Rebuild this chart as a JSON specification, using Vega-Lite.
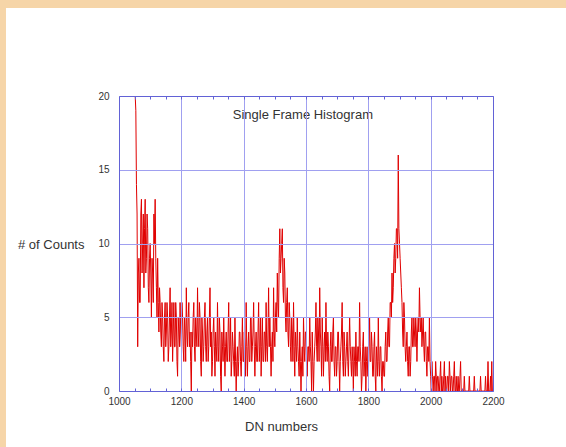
{
  "$schema": "https://vega.github.io/schema/vega-lite/v6.json",
  "width": 374,
  "height": 295,
  "autosize": "none",
  "padding": {"left": 119, "top": 96, "right": 73, "bottom": 56},
  "background": "#F6D5A8",
  "config": {
    "view": {"stroke": null},
    "axis": {
      "labelFont": "Liberation Sans",
      "titleFont": "Liberation Sans",
      "labelColor": "#333333",
      "titleColor": "#333333",
      "labelFontSize": 10,
      "titleFontSize": 13,
      "titleFontWeight": "normal",
      "domainColor": "#6262D6",
      "tickColor": "#6262D6",
      "gridColor": "#A0A0F0",
      "gridWidth": 1,
      "domainWidth": 1
    }
  },
  "resolve": {"axis": {"x": "independent", "y": "independent"}},
  "layer": [
    {
      "data": {"values": [{"panel": "sheet"}]},
      "mark": {"type": "rect", "color": "white"},
      "encoding": {
        "x": {"datum": 637.4, "type": "quantitative", "scale": {"domain": [1000, 2200]}, "axis": null},
        "x2": {"datum": 2434.2},
        "y": {"datum": -3.8, "type": "quantitative", "scale": {"domain": [0, 20]}, "axis": null},
        "y2": {"datum": 25.97}
      }
    },
    {
      "data": {
        "values": [
          {"dn":1052,"n":20},{"dn":1054,"n":19},{"dn":1056,"n":14},{"dn":1058,"n":12},{"dn":1060,"n":3},{"dn":1062,"n":8},{"dn":1064,"n":9},{"dn":1066,"n":6},{"dn":1068,"n":6},{"dn":1070,"n":12},
          {"dn":1072,"n":13},{"dn":1074,"n":8},{"dn":1076,"n":10},{"dn":1078,"n":12},{"dn":1080,"n":7},{"dn":1082,"n":11},{"dn":1084,"n":13},{"dn":1086,"n":8},{"dn":1088,"n":9},{"dn":1090,"n":12},
          {"dn":1092,"n":11},{"dn":1094,"n":7},{"dn":1096,"n":6},{"dn":1098,"n":9},{"dn":1100,"n":10},{"dn":1102,"n":8},{"dn":1104,"n":5},{"dn":1106,"n":9},{"dn":1108,"n":8},{"dn":1110,"n":6},
          {"dn":1112,"n":12},{"dn":1114,"n":10},{"dn":1116,"n":13},{"dn":1118,"n":9},{"dn":1120,"n":7},{"dn":1122,"n":5},{"dn":1124,"n":9},{"dn":1126,"n":6},{"dn":1128,"n":4},{"dn":1130,"n":7},
          {"dn":1132,"n":6},{"dn":1134,"n":4},{"dn":1136,"n":3},{"dn":1138,"n":6},{"dn":1140,"n":5},{"dn":1142,"n":3},{"dn":1144,"n":2},{"dn":1146,"n":5},{"dn":1148,"n":6},{"dn":1150,"n":3},
          {"dn":1152,"n":4},{"dn":1154,"n":6},{"dn":1156,"n":5},{"dn":1158,"n":2},{"dn":1160,"n":3},{"dn":1162,"n":5},{"dn":1164,"n":7},{"dn":1166,"n":3},{"dn":1168,"n":4},{"dn":1170,"n":6},
          {"dn":1172,"n":2},{"dn":1174,"n":4},{"dn":1176,"n":6},{"dn":1178,"n":3},{"dn":1180,"n":3},{"dn":1182,"n":6},{"dn":1184,"n":5},{"dn":1186,"n":2},{"dn":1188,"n":1},{"dn":1190,"n":5},
          {"dn":1192,"n":4},{"dn":1194,"n":3},{"dn":1196,"n":6},{"dn":1198,"n":4},{"dn":1200,"n":3},{"dn":1202,"n":6},{"dn":1204,"n":5},{"dn":1206,"n":3},{"dn":1208,"n":2},{"dn":1210,"n":5},
          {"dn":1212,"n":4},{"dn":1214,"n":2},{"dn":1216,"n":7},{"dn":1218,"n":4},{"dn":1220,"n":3},{"dn":1222,"n":5},{"dn":1224,"n":6},{"dn":1226,"n":3},{"dn":1228,"n":4},{"dn":1230,"n":2},
          {"dn":1232,"n":0},{"dn":1234,"n":4},{"dn":1236,"n":3},{"dn":1238,"n":5},{"dn":1240,"n":6},{"dn":1242,"n":3},{"dn":1244,"n":2},{"dn":1246,"n":5},{"dn":1248,"n":4},{"dn":1250,"n":3},
          {"dn":1252,"n":7},{"dn":1254,"n":4},{"dn":1256,"n":3},{"dn":1258,"n":6},{"dn":1260,"n":5},{"dn":1262,"n":2},{"dn":1264,"n":1},{"dn":1266,"n":5},{"dn":1268,"n":4},{"dn":1270,"n":2},
          {"dn":1272,"n":3},{"dn":1274,"n":5},{"dn":1276,"n":6},{"dn":1278,"n":3},{"dn":1280,"n":2},{"dn":1282,"n":4},{"dn":1284,"n":5},{"dn":1286,"n":2},{"dn":1288,"n":3},{"dn":1290,"n":5},
          {"dn":1292,"n":7},{"dn":1294,"n":3},{"dn":1296,"n":4},{"dn":1298,"n":1},{"dn":1300,"n":2},{"dn":1302,"n":4},{"dn":1304,"n":5},{"dn":1306,"n":3},{"dn":1308,"n":1},{"dn":1310,"n":4},
          {"dn":1312,"n":3},{"dn":1314,"n":2},{"dn":1316,"n":6},{"dn":1318,"n":3},{"dn":1320,"n":2},{"dn":1322,"n":5},{"dn":1324,"n":4},{"dn":1326,"n":1},{"dn":1328,"n":0},{"dn":1330,"n":4},
          {"dn":1332,"n":3},{"dn":1334,"n":2},{"dn":1336,"n":5},{"dn":1338,"n":3},{"dn":1340,"n":1},{"dn":1342,"n":3},{"dn":1344,"n":4},{"dn":1346,"n":2},{"dn":1348,"n":2},{"dn":1350,"n":4},
          {"dn":1352,"n":6},{"dn":1354,"n":2},{"dn":1356,"n":3},{"dn":1358,"n":5},{"dn":1360,"n":1},{"dn":1362,"n":2},{"dn":1364,"n":4},{"dn":1366,"n":3},{"dn":1368,"n":2},{"dn":1370,"n":1},
          {"dn":1372,"n":5},{"dn":1374,"n":2},{"dn":1376,"n":0},{"dn":1378,"n":2},{"dn":1380,"n":3},{"dn":1382,"n":1},{"dn":1384,"n":2},{"dn":1386,"n":4},{"dn":1388,"n":4},{"dn":1390,"n":2},
          {"dn":1392,"n":1},{"dn":1394,"n":3},{"dn":1396,"n":5},{"dn":1398,"n":2},{"dn":1400,"n":2},{"dn":1402,"n":4},{"dn":1404,"n":3},{"dn":1406,"n":1},{"dn":1408,"n":6},{"dn":1410,"n":3},
          {"dn":1412,"n":1},{"dn":1414,"n":3},{"dn":1416,"n":4},{"dn":1418,"n":2},{"dn":1420,"n":2},{"dn":1422,"n":5},{"dn":1424,"n":5},{"dn":1426,"n":2},{"dn":1428,"n":3},{"dn":1430,"n":4},
          {"dn":1432,"n":6},{"dn":1434,"n":3},{"dn":1436,"n":1},{"dn":1438,"n":3},{"dn":1440,"n":4},{"dn":1442,"n":2},{"dn":1444,"n":2},{"dn":1446,"n":4},{"dn":1448,"n":6},{"dn":1450,"n":2},
          {"dn":1452,"n":3},{"dn":1454,"n":5},{"dn":1456,"n":1},{"dn":1458,"n":3},{"dn":1460,"n":5},{"dn":1462,"n":2},{"dn":1464,"n":2},{"dn":1466,"n":4},{"dn":1468,"n":4},{"dn":1470,"n":2},
          {"dn":1472,"n":6},{"dn":1474,"n":3},{"dn":1476,"n":2},{"dn":1478,"n":4},{"dn":1480,"n":7},{"dn":1482,"n":3},{"dn":1484,"n":5},{"dn":1486,"n":3},{"dn":1488,"n":1},{"dn":1490,"n":3},
          {"dn":1492,"n":4},{"dn":1494,"n":2},{"dn":1496,"n":7},{"dn":1498,"n":4},{"dn":1500,"n":3},{"dn":1502,"n":5},{"dn":1504,"n":6},{"dn":1506,"n":4},{"dn":1508,"n":8},{"dn":1510,"n":6},
          {"dn":1512,"n":5},{"dn":1514,"n":9},{"dn":1516,"n":11},{"dn":1518,"n":8},{"dn":1520,"n":9},{"dn":1522,"n":10},{"dn":1524,"n":11},{"dn":1526,"n":7},{"dn":1528,"n":6},{"dn":1530,"n":9},
          {"dn":1532,"n":8},{"dn":1534,"n":5},{"dn":1536,"n":4},{"dn":1538,"n":6},{"dn":1540,"n":7},{"dn":1542,"n":4},{"dn":1544,"n":3},{"dn":1546,"n":6},{"dn":1548,"n":5},{"dn":1550,"n":3},
          {"dn":1552,"n":2},{"dn":1554,"n":5},{"dn":1556,"n":4},{"dn":1558,"n":2},{"dn":1560,"n":6},{"dn":1562,"n":3},{"dn":1564,"n":1},{"dn":1566,"n":4},{"dn":1568,"n":3},{"dn":1570,"n":2},
          {"dn":1572,"n":5},{"dn":1574,"n":3},{"dn":1576,"n":2},{"dn":1578,"n":1},{"dn":1580,"n":4},{"dn":1582,"n":2},{"dn":1584,"n":0},{"dn":1586,"n":2},{"dn":1588,"n":3},{"dn":1590,"n":1},
          {"dn":1592,"n":5},{"dn":1594,"n":3},{"dn":1596,"n":2},{"dn":1598,"n":4},{"dn":1600,"n":4},{"dn":1602,"n":2},{"dn":1604,"n":1},{"dn":1606,"n":3},{"dn":1608,"n":3},{"dn":1610,"n":2},
          {"dn":1612,"n":5},{"dn":1614,"n":3},{"dn":1616,"n":2},{"dn":1618,"n":0},{"dn":1620,"n":4},{"dn":1622,"n":2},{"dn":1624,"n":0},{"dn":1626,"n":2},{"dn":1628,"n":3},{"dn":1630,"n":4},
          {"dn":1632,"n":6},{"dn":1634,"n":3},{"dn":1636,"n":2},{"dn":1638,"n":5},{"dn":1640,"n":4},{"dn":1642,"n":2},{"dn":1644,"n":7},{"dn":1646,"n":4},{"dn":1648,"n":3},{"dn":1650,"n":1},
          {"dn":1652,"n":5},{"dn":1654,"n":3},{"dn":1656,"n":1},{"dn":1658,"n":3},{"dn":1660,"n":4},{"dn":1662,"n":2},{"dn":1664,"n":6},{"dn":1666,"n":3},{"dn":1668,"n":2},{"dn":1670,"n":4},
          {"dn":1672,"n":3},{"dn":1674,"n":1},{"dn":1676,"n":0},{"dn":1678,"n":3},{"dn":1680,"n":4},{"dn":1682,"n":2},{"dn":1684,"n":2},{"dn":1686,"n":4},{"dn":1688,"n":5},{"dn":1690,"n":2},
          {"dn":1692,"n":1},{"dn":1694,"n":3},{"dn":1696,"n":3},{"dn":1698,"n":1},{"dn":1700,"n":2},{"dn":1702,"n":4},{"dn":1704,"n":4},{"dn":1706,"n":2},{"dn":1708,"n":0},{"dn":1710,"n":2},
          {"dn":1712,"n":3},{"dn":1714,"n":4},{"dn":1716,"n":6},{"dn":1718,"n":2},{"dn":1720,"n":1},{"dn":1722,"n":4},{"dn":1724,"n":3},{"dn":1726,"n":1},{"dn":1728,"n":2},{"dn":1730,"n":3},
          {"dn":1732,"n":4},{"dn":1734,"n":2},{"dn":1736,"n":1},{"dn":1738,"n":3},{"dn":1740,"n":5},{"dn":1742,"n":3},{"dn":1744,"n":2},{"dn":1746,"n":1},{"dn":1748,"n":3},{"dn":1750,"n":2},
          {"dn":1752,"n":0},{"dn":1754,"n":3},{"dn":1756,"n":2},{"dn":1758,"n":1},{"dn":1760,"n":4},{"dn":1762,"n":2},{"dn":1764,"n":1},{"dn":1766,"n":3},{"dn":1768,"n":3},{"dn":1770,"n":2},
          {"dn":1772,"n":6},{"dn":1774,"n":3},{"dn":1776,"n":2},{"dn":1778,"n":0},{"dn":1780,"n":1},{"dn":1782,"n":3},{"dn":1784,"n":4},{"dn":1786,"n":1},{"dn":1788,"n":2},{"dn":1790,"n":3},
          {"dn":1792,"n":0},{"dn":1794,"n":2},{"dn":1796,"n":3},{"dn":1798,"n":1},{"dn":1800,"n":1},{"dn":1802,"n":3},{"dn":1804,"n":5},{"dn":1806,"n":2},{"dn":1808,"n":2},{"dn":1810,"n":4},
          {"dn":1812,"n":3},{"dn":1814,"n":1},{"dn":1816,"n":1},{"dn":1818,"n":3},{"dn":1820,"n":4},{"dn":1822,"n":1},{"dn":1824,"n":0},{"dn":1826,"n":3},{"dn":1828,"n":2},{"dn":1830,"n":1},
          {"dn":1832,"n":5},{"dn":1834,"n":2},{"dn":1836,"n":1},{"dn":1838,"n":3},{"dn":1840,"n":3},{"dn":1842,"n":1},{"dn":1844,"n":0},{"dn":1846,"n":2},{"dn":1848,"n":2},{"dn":1850,"n":1},
          {"dn":1852,"n":1},{"dn":1854,"n":3},{"dn":1856,"n":4},{"dn":1858,"n":2},{"dn":1860,"n":2},{"dn":1862,"n":4},{"dn":1864,"n":5},{"dn":1866,"n":3},{"dn":1868,"n":3},{"dn":1870,"n":6},
          {"dn":1872,"n":6},{"dn":1874,"n":5},{"dn":1876,"n":8},{"dn":1878,"n":6},{"dn":1880,"n":7},{"dn":1882,"n":9},{"dn":1884,"n":10},{"dn":1886,"n":8},{"dn":1888,"n":9},{"dn":1890,"n":11},
          {"dn":1892,"n":11},{"dn":1894,"n":9},{"dn":1896,"n":16},{"dn":1898,"n":11},{"dn":1900,"n":10},{"dn":1902,"n":9},{"dn":1904,"n":8},{"dn":1906,"n":7},{"dn":1908,"n":6},{"dn":1910,"n":4},
          {"dn":1912,"n":3},{"dn":1914,"n":6},{"dn":1916,"n":5},{"dn":1918,"n":3},{"dn":1920,"n":2},{"dn":1922,"n":3},{"dn":1924,"n":4},{"dn":1926,"n":2},{"dn":1928,"n":1},{"dn":1930,"n":3},
          {"dn":1932,"n":3},{"dn":1934,"n":1},{"dn":1936,"n":2},{"dn":1938,"n":4},{"dn":1940,"n":5},{"dn":1942,"n":3},{"dn":1944,"n":3},{"dn":1946,"n":5},{"dn":1948,"n":4},{"dn":1950,"n":3},
          {"dn":1952,"n":5},{"dn":1954,"n":4},{"dn":1956,"n":2},{"dn":1958,"n":4},{"dn":1960,"n":5},{"dn":1962,"n":4},{"dn":1964,"n":7},{"dn":1966,"n":5},{"dn":1968,"n":4},{"dn":1970,"n":5},
          {"dn":1972,"n":3},{"dn":1974,"n":4},{"dn":1976,"n":5},{"dn":1978,"n":3},{"dn":1980,"n":2},{"dn":1982,"n":4},{"dn":1984,"n":4},{"dn":1986,"n":2},{"dn":1988,"n":1},{"dn":1990,"n":3},
          {"dn":1992,"n":3},{"dn":1994,"n":2},{"dn":1996,"n":5},{"dn":1998,"n":2},{"dn":2000,"n":1},{"dn":2002,"n":0},{"dn":2004,"n":2},{"dn":2006,"n":1},{"dn":2008,"n":0},{"dn":2010,"n":1},
          {"dn":2012,"n":1},{"dn":2014,"n":0},{"dn":2016,"n":2},{"dn":2018,"n":1},{"dn":2020,"n":0},{"dn":2022,"n":1},{"dn":2024,"n":1},{"dn":2026,"n":0},{"dn":2028,"n":0},{"dn":2030,"n":1},
          {"dn":2032,"n":2},{"dn":2034,"n":0},{"dn":2036,"n":1},{"dn":2038,"n":0},{"dn":2040,"n":0},{"dn":2042,"n":1},{"dn":2044,"n":2},{"dn":2046,"n":0},{"dn":2048,"n":1},{"dn":2050,"n":0},
          {"dn":2052,"n":0},{"dn":2054,"n":1},{"dn":2056,"n":1},{"dn":2058,"n":0},{"dn":2060,"n":2},{"dn":2062,"n":1},{"dn":2064,"n":0},{"dn":2066,"n":1},{"dn":2068,"n":1},{"dn":2070,"n":0},
          {"dn":2072,"n":0},{"dn":2074,"n":1},{"dn":2076,"n":2},{"dn":2078,"n":0},{"dn":2080,"n":0},{"dn":2082,"n":1},{"dn":2084,"n":0},{"dn":2086,"n":0},{"dn":2088,"n":1},{"dn":2090,"n":0},
          {"dn":2092,"n":0},{"dn":2094,"n":1},{"dn":2096,"n":2},{"dn":2098,"n":0},{"dn":2100,"n":0},{"dn":2102,"n":0},{"dn":2104,"n":0},{"dn":2106,"n":0},{"dn":2108,"n":1},{"dn":2110,"n":0},
          {"dn":2112,"n":0},{"dn":2114,"n":0},{"dn":2116,"n":0},{"dn":2118,"n":0},{"dn":2120,"n":0},{"dn":2122,"n":0},{"dn":2124,"n":1},{"dn":2126,"n":0},{"dn":2128,"n":0},{"dn":2130,"n":0},
          {"dn":2132,"n":0},{"dn":2134,"n":0},{"dn":2136,"n":0},{"dn":2138,"n":0},{"dn":2140,"n":1},{"dn":2142,"n":0},{"dn":2144,"n":0},{"dn":2146,"n":0},{"dn":2148,"n":0},{"dn":2150,"n":0},
          {"dn":2152,"n":0},{"dn":2154,"n":0},{"dn":2156,"n":0},{"dn":2158,"n":0},{"dn":2160,"n":1},{"dn":2162,"n":0},{"dn":2164,"n":0},{"dn":2166,"n":0},{"dn":2168,"n":0},{"dn":2170,"n":0},
          {"dn":2172,"n":0},{"dn":2174,"n":0},{"dn":2176,"n":1},{"dn":2178,"n":0},{"dn":2180,"n":0},{"dn":2182,"n":0},{"dn":2184,"n":2},{"dn":2186,"n":0},{"dn":2188,"n":0},{"dn":2190,"n":0},
          {"dn":2192,"n":1},{"dn":2194,"n":0},{"dn":2196,"n":2},{"dn":2198,"n":0}
        ]
      },
      "mark": {"type": "line", "color": "#E00000", "strokeWidth": 1},
      "encoding": {
        "x": {
          "field": "dn", "type": "quantitative",
          "scale": {"domain": [1000, 2200]},
          "axis": {
            "zindex": 1,
            "orient": "bottom",
            "values": [1000,1050,1100,1150,1200,1250,1300,1350,1400,1450,1500,1550,1600,1650,1700,1750,1800,1850,1900,1950,2000,2050,2100,2150,2200],
            "labelExpr": "datum.value % 200 === 0 ? datum.label : ''",
            "format": "d",
            "tickSize": -3,
            "labelPadding": 8,
            "labelFlush": false,
            "grid": true,
            "gridOpacity": {"condition": {"test": "datum.value % 200 === 0 && datum.value > 1000 && datum.value < 2200", "value": 1}, "value": 0},
            "domain": true,
            "title": "DN numbers",
            "titleX": 162,
            "titleY": 39,
            "titleBaseline": "alphabetic",
            "titleAnchor": "middle"
          }
        },
        "y": {
          "field": "n", "type": "quantitative",
          "scale": {"domain": [0, 20]},
          "axis": {
            "zindex": 1,
            "orient": "left",
            "values": [0, 5, 10, 15, 20],
            "ticks": false,
            "labelPadding": 10,
            "labelFlush": false,
            "grid": true,
            "gridOpacity": {"condition": {"test": "datum.value > 0 && datum.value < 20", "value": 1}, "value": 0},
            "domain": true,
            "title": "# of Counts",
            "titleAngle": 0,
            "titleAlign": "right",
            "titleBaseline": "middle",
            "titleX": -35,
            "titleY": 148
          }
        }
      }
    },
    {
      "data": {"values": [{"caption": "Single Frame Histogram"}]},
      "mark": {"type": "text", "font": "Liberation Sans", "fontSize": 13, "color": "#333333", "align": "center", "baseline": "middle"},
      "encoding": {
        "text": {"field": "caption"},
        "x": {
          "datum": 1590, "type": "quantitative",
          "scale": {"domain": [1000, 2200]},
          "axis": {
            "zindex": 1,
            "orient": "top",
            "values": [1000,1050,1100,1150,1200,1250,1300,1350,1400,1450,1500,1550,1600,1650,1700,1750,1800,1850,1900,1950,2000,2050,2100,2150,2200],
            "labels": false,
            "tickSize": -3,
            "grid": false,
            "domain": true,
            "title": null
          }
        },
        "y": {
          "datum": 18.7, "type": "quantitative",
          "scale": {"domain": [0, 20]},
          "axis": {
            "zindex": 1,
            "orient": "right",
            "labels": false,
            "ticks": false,
            "grid": false,
            "domain": true,
            "title": null
          }
        }
      }
    }
  ]
}
